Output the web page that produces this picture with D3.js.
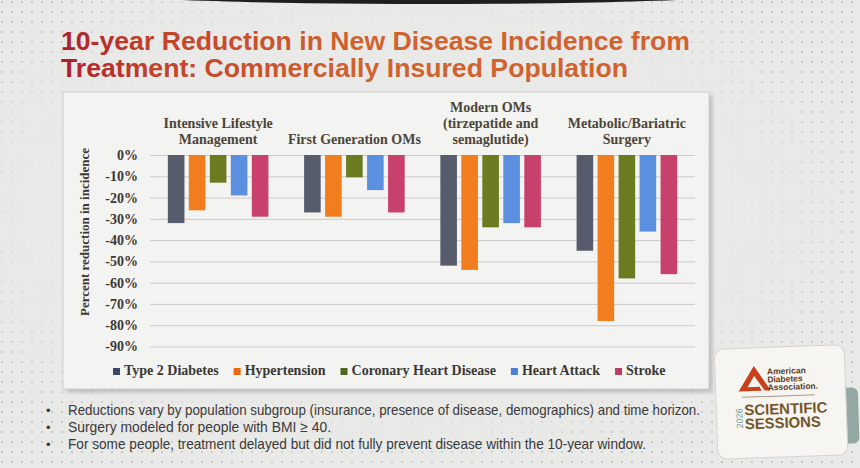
<!DOCTYPE html>
<html>
<head>
<meta charset="utf-8">
<script src="https://cdn.jsdelivr.net/npm/d3@7"></script>
<style>
body { margin: 0; background: #e8e8e6; }
svg { display: block; }
</style>
</head>
<body>
<script>
// groups ("|" marks a line break in the label)
var groups = ["Intensive Lifestyle|Management", "First Generation OMs", "Modern OMs|(tirzepatide and|semaglutide)", "Metabolic/Bariatric|Surgery"];
var series = ["Type 2 Diabetes", "Hypertension", "Coronary Heart Disease", "Heart Attack", "Stroke"];

// percent change in incidence, one value per group
var type2Diabetes = [-32, -27, -52, -45];
var hypertension = [-26, -29, -54, -78];
var coronaryHeart = [-13, -10.5, -34, -58];
var heartAttack = [-19, -16.5, -32, -36];
var stroke = [-29, -27, -34, -56];

var yTicks = [0, -10, -20, -30, -40, -50, -60, -70, -80, -90];

var titleLines = ["10-year Reduction in New Disease Incidence from", "Treatment: Commercially Insured Population"];
var bullets = [
    "Reductions vary by population subgroup (insurance, presence of disease, demographics) and time horizon.",
    "Surgery modeled for people with BMI \u2265 40.",
    "For some people, treatment delayed but did not fully prevent disease within the 10-year window."
];

var values = [type2Diabetes, hypertension, coronaryHeart, heartAttack, stroke];
var barColors = ["#575c6c", "#f27d1e", "#6a7b20", "#5b8fdf", "#c8416d"];
var keyColors = ["#38476a", "#ea6614", "#4d6a1d", "#4b7fd6", "#b93c68"];
var serif = "'Liberation Serif', 'Times New Roman', serif";
var sans = "'Liberation Sans', Arial, sans-serif";

var svg = d3.select('body')
    .append('svg')
    .attr('width', 860)
    .attr('height', 468);

var defs = svg.append('defs');

var dots = defs.append('pattern')
    .attr('id', 'dots')
    .attr('width', 10)
    .attr('height', 10)
    .attr('patternUnits', 'userSpaceOnUse');
dots.append('circle').attr('cx', 2).attr('cy', 2).attr('r', 0.9).attr('fill', '#b4b6b8');

var fade = defs.append('radialGradient').attr('id', 'fade').attr('cx', 0.45).attr('cy', 0.45).attr('r', 0.62);
fade.append('stop').attr('offset', 0.62).attr('stop-color', 'black');
fade.append('stop').attr('offset', 0.95).attr('stop-color', 'white');
defs.append('mask').attr('id', 'edgeMask')
    .append('rect').attr('width', 860).attr('height', 468).attr('fill', 'url(#fade)');

var titleGrad = defs.append('linearGradient')
    .attr('id', 'titleGrad')
    .attr('gradientUnits', 'userSpaceOnUse')
    .attr('x1', 60).attr('x2', 360).attr('y1', 0).attr('y2', 0);
titleGrad.append('stop').attr('offset', 0).attr('stop-color', '#ad1d29');
titleGrad.append('stop').attr('offset', 0.3).attr('stop-color', '#c2412b');
titleGrad.append('stop').attr('offset', 1).attr('stop-color', '#d0622f');

defs.append('filter').attr('id', 'blur')
    .append('feGaussianBlur').attr('stdDeviation', 2);

// slide background
svg.append('rect').attr('width', 860).attr('height', 468).attr('fill', '#e9e9e7');
svg.append('rect').attr('width', 860).attr('height', 468).attr('fill', 'url(#dots)').attr('mask', 'url(#edgeMask)');
svg.append('ellipse').attr('cx', 430).attr('cy', -7).attr('rx', 320).attr('ry', 11).attr('fill', '#1e1e1e');

// title
svg.selectAll('.title')
    .data(titleLines)
    .enter()
    .append('text')
    .attr('class', 'title')
    .attr('x', 61)
    .attr('y', (d, i) => 50 + i * 27)
    .attr('textLength', (d, i) => i == 0 ? 629 : 567)
    .attr('lengthAdjust', 'spacingAndGlyphs')
    .attr('font-family', sans)
    .attr('font-weight', 'bold')
    .attr('font-size', 25.5)
    .attr('fill', 'url(#titleGrad)')
    .text(d => d);

// chart panel
svg.append('rect').attr('x', 66).attr('y', 95).attr('width', 646).attr('height', 297)
    .attr('fill', '#9a9a98').attr('opacity', 0.6).attr('filter', 'url(#blur)');
svg.append('rect').attr('x', 63).attr('y', 92).attr('width', 646).attr('height', 297)
    .attr('fill', '#f3f3f1').attr('stroke', '#cfcfcb');

var x0 = d3.scaleBand().domain(groups).range([150, 695]);
var x1 = d3.scaleBand().domain(series).range([0, x0.bandwidth()]).paddingInner(0.21).paddingOuter(0.85);
var y = d3.scaleLinear().domain([0, -90]).range([155, 346.5]);

var yAxis = svg.append('g')
    .attr('transform', 'translate(150,0)')
    .call(d3.axisLeft(y).tickValues(yTicks).tickFormat(d => d + '%').tickSize(-545).tickPadding(12));
yAxis.select('.domain').remove();
yAxis.selectAll('line').attr('stroke', '#cbcbc8');
yAxis.selectAll('text')
    .attr('font-family', serif)
    .attr('font-weight', 'bold')
    .attr('font-size', 14)
    .attr('fill', '#3a3834');

svg.append('text')
    .attr('transform', 'translate(89,232) rotate(-90)')
    .attr('text-anchor', 'middle')
    .attr('font-family', serif)
    .attr('font-weight', 'bold')
    .attr('font-size', 13)
    .attr('fill', '#3a3834')
    .text('Percent reduction in incidence');

// bars
var groupG = svg.selectAll('.grp')
    .data(groups)
    .enter()
    .append('g')
    .attr('class', 'grp')
    .attr('transform', d => `translate(${x0(d)},0)`);

groupG.selectAll('rect')
    .data((d, gi) => series.map((s, si) => ({ s: s, si: si, v: values[si][gi] })))
    .enter()
    .append('rect')
    .attr('x', d => x1(d.s))
    .attr('y', y(0))
    .attr('width', x1.bandwidth())
    .attr('height', d => y(d.v) - y(0))
    .attr('fill', d => barColors[d.si]);

// group labels above the bars
groupG.each(function(d) {
    var lines = d.split('|');
    d3.select(this).selectAll('.glabel')
        .data(lines)
        .enter()
        .append('text')
        .attr('class', 'glabel')
        .attr('x', x0.bandwidth() / 2)
        .attr('y', (l, i) => 144 - (lines.length - 1 - i) * 16)
        .attr('text-anchor', 'middle')
        .attr('font-family', serif)
        .attr('font-weight', 'bold')
        .attr('font-size', 14)
        .attr('fill', '#4d4536')
        .text(l => l);
});

// legend
var lx = 113;
series.forEach(function(s, i) {
    svg.append('rect').attr('x', lx).attr('y', 368).attr('width', 7).attr('height', 7).attr('fill', keyColors[i]);
    var t = svg.append('text')
        .attr('x', lx + 11)
        .attr('y', 375)
        .attr('font-family', serif)
        .attr('font-weight', 'bold')
        .attr('font-size', 14)
        .attr('fill', '#3a3834')
        .text(s);
    lx += 11 + t.node().getComputedTextLength() + 15;
});

// bullet notes
var bulletEnds = [700, 331, 646];
var notes = svg.selectAll('.note')
    .data(bullets)
    .enter()
    .append('g')
    .attr('class', 'note')
    .attr('transform', (d, i) => `translate(0,${415 + i * 17})`);
notes.append('text')
    .attr('x', 46)
    .attr('font-family', sans)
    .attr('font-size', 13)
    .attr('fill', '#3a3a3a')
    .text('\u2022');
notes.append('text')
    .attr('x', 68)
    .attr('textLength', (d, i) => bulletEnds[i] - 68)
    .attr('lengthAdjust', 'spacingAndGlyphs')
    .attr('font-family', sans)
    .attr('font-size', 14.5)
    .attr('fill', '#3a3a3a')
    .text(d => d);

// conference badge
var badge = svg.append('g').attr('transform', 'rotate(-2,780,400)');
badge.append('rect').attr('x', 800).attr('y', 390).attr('width', 58).attr('height', 56).attr('rx', 6).attr('fill', '#93a8a3');
badge.append('rect').attr('x', 716).attr('y', 347).attr('width', 130).attr('height', 110).attr('rx', 9)
    .attr('fill', '#f6f5f1').attr('stroke', '#d6d4cc');
badge.append('path')
    .attr('d', 'M739,390 L755,365 L771,390 L765,390 L755,375 L748,386 L760,386 L762,390 Z')
    .attr('fill', '#c9411b');
['American', 'Diabetes', 'Association.'].forEach(function(w, i) {
    badge.append('text')
        .attr('x', 768).attr('y', 374 + i * 8)
        .attr('font-family', sans)
        .attr('font-weight', 'bold')
        .attr('font-size', 8.5)
        .attr('fill', '#5b3c1c')
        .text(w);
});
badge.append('line').attr('x1', 742).attr('x2', 815).attr('y1', 396).attr('y2', 396).attr('stroke', '#a89a80');
badge.append('text')
    .attr('transform', 'translate(742,427) rotate(-90)')
    .attr('font-family', sans)
    .attr('font-size', 9)
    .attr('fill', '#6e9c9b')
    .text('2026');
['SCIENTIFIC', 'SESSIONS'].forEach(function(w, i) {
    badge.append('text')
        .attr('x', 744).attr('y', 414 + i * 14)
        .attr('textLength', i == 0 ? 83 : 76)
        .attr('lengthAdjust', 'spacingAndGlyphs')
        .attr('font-family', sans)
        .attr('font-weight', 'bold')
        .attr('font-size', 15)
        .attr('fill', '#74552a')
        .text(w);
});
</script>
</body>
</html>
